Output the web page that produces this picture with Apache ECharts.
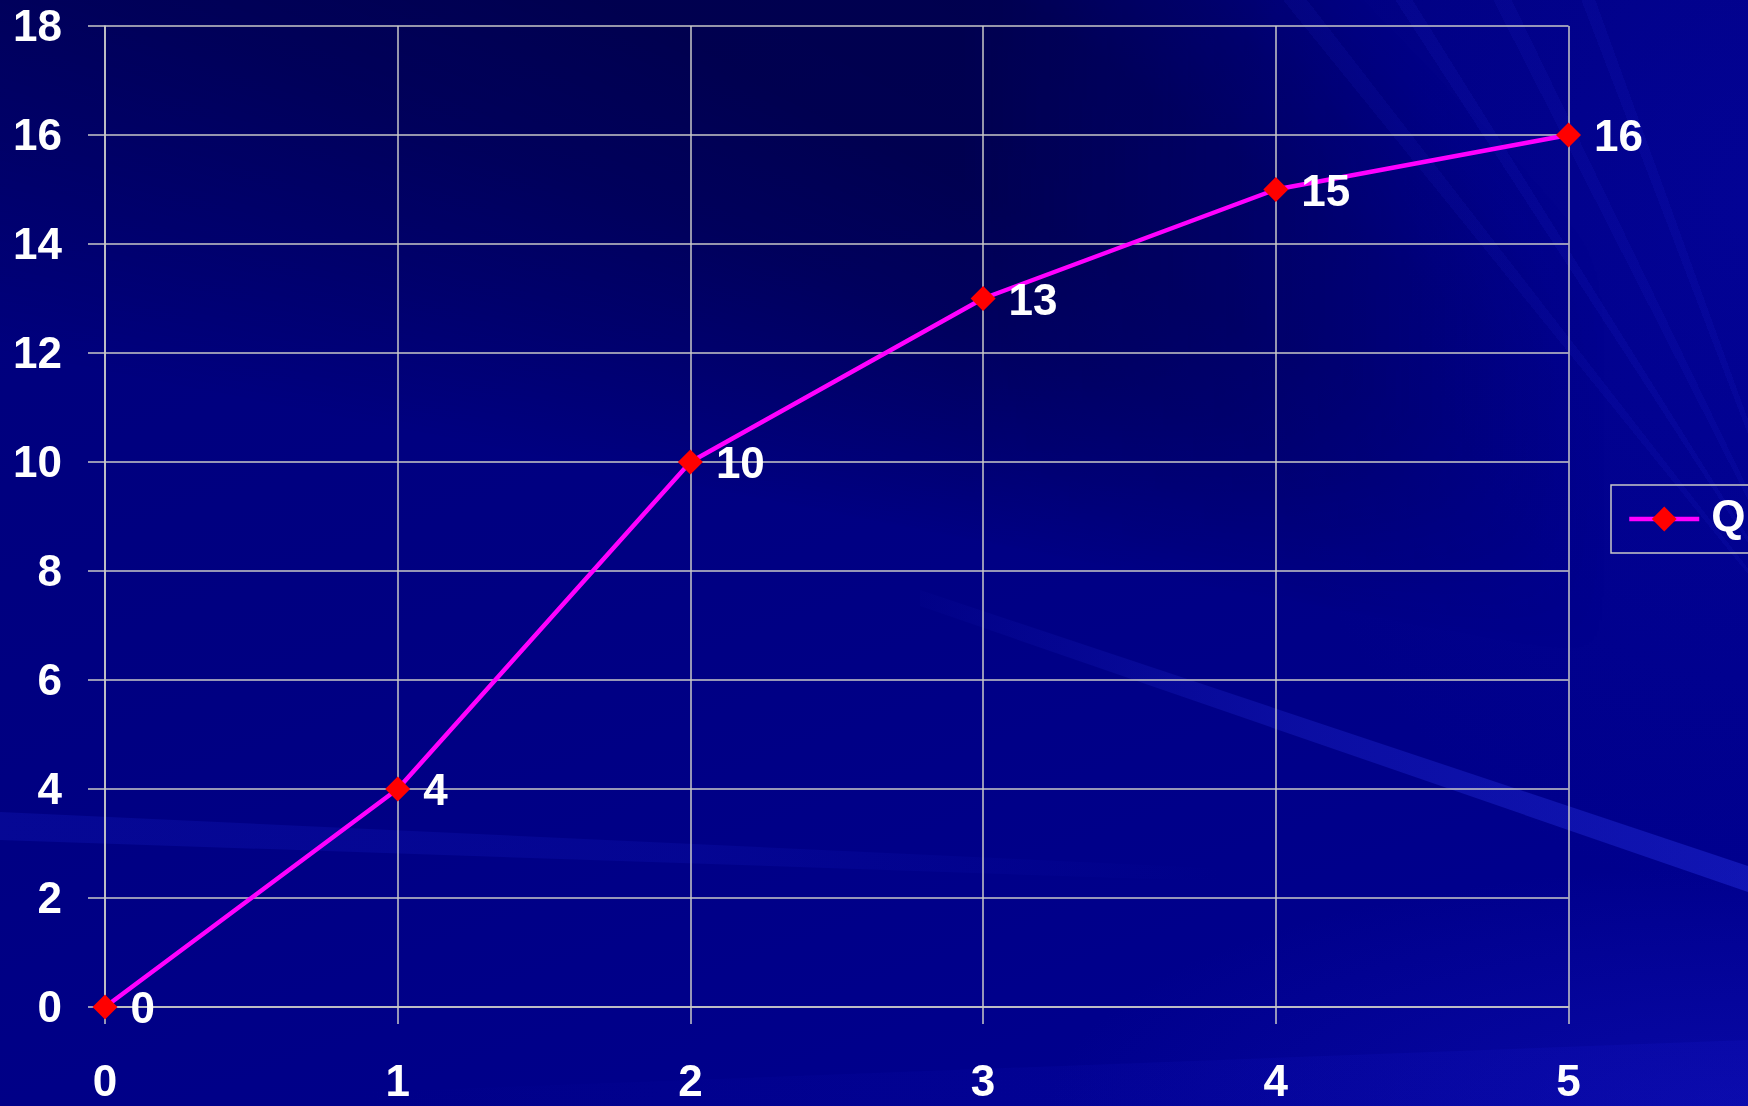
<!DOCTYPE html>
<html>
<head>
<meta charset="utf-8">
<script src="https://cdn.jsdelivr.net/npm/echarts@6/dist/echarts.min.js"></script>
<style>
html, body { margin: 0; padding: 0; background: #000080; }
.layer { position: absolute; left: 0; top: 0; width: 1748px; height: 1106px; }
#bg {
  background:
    radial-gradient(ellipse 700px 240px at 1748px 1106px, rgba(20,20,190,0.45), rgba(0,0,0,0)),
    radial-gradient(ellipse 520px 700px at 1748px 200px, rgba(10,10,190,0.30), rgba(0,0,0,0)),
    linear-gradient(160deg, #00007a 0%, #000082 45%, #00008a 75%, #000092 100%);
}
#dark {
  background: conic-gradient(from 0deg at 2100px 760px,
      rgba(0,0,25,0) 0deg 281deg,
      rgba(0,0,25,0.18) 286deg,
      rgba(0,0,25,0.34) 291deg,
      rgba(0,0,25,0.45) 297deg,
      rgba(0,0,25,0.46) 305deg,
      rgba(0,0,25,0.32) 310deg,
      rgba(0,0,25,0) 316deg,
      rgba(0,0,25,0) 360deg);
  -webkit-mask-image: linear-gradient(to right, #000 0%, #000 55%, rgba(0,0,0,0) 92%);
  mask-image: linear-gradient(to right, #000 0%, #000 55%, rgba(0,0,0,0) 92%);
}
#rays {
  background: conic-gradient(from 0deg at 1850px 700px,
      rgba(0,0,0,0) 0deg 321deg,
      rgba(50,60,255,0.07) 321deg 322.2deg,
      rgba(0,0,0,0) 322.2deg 327deg,
      rgba(50,60,255,0.08) 327deg 328deg,
      rgba(0,0,0,0) 328deg 333deg,
      rgba(50,60,255,0.07) 333deg 334.2deg,
      rgba(0,0,0,0) 334.2deg 339deg,
      rgba(50,60,255,0.07) 339deg 340deg,
      rgba(0,0,0,0) 340deg 360deg);
}
#streakA {
  background: linear-gradient(to right, rgba(40,50,230,0) 50%, rgba(40,50,230,0.28) 75%, rgba(40,50,230,0.42) 100%);
  clip-path: polygon(920px 590px, 1748px 866px, 1748px 892px, 920px 606px);
}
#streakB {
  background: linear-gradient(to right, rgba(30,40,220,0.20) 0%, rgba(30,40,220,0.14) 40%, rgba(30,40,220,0) 70%);
  clip-path: polygon(0px 812px, 1300px 872px, 1300px 884px, 0px 840px);
}
#streakC {
  background: linear-gradient(to right, rgba(20,20,200,0) 20%, rgba(20,20,200,0.22) 100%);
  clip-path: polygon(0px 1106px, 1748px 1040px, 1748px 1106px);
}
#chart { position: absolute; left: 0; top: 0; width: 1748px; height: 1106px; }
</style>
</head>
<body>
<div id="bg" class="layer"></div>
<div id="dark" class="layer"></div>
<div id="rays" class="layer"></div>
<div id="streakA" class="layer"></div>
<div id="streakB" class="layer"></div>
<div id="streakC" class="layer"></div>
<div id="chart"></div>
<script>
var xValues = [0, 1, 2, 3, 4, 5];
var qValues = [0, 4, 10, 13, 15, 16];
var seriesName = 'Q';

var chart = echarts.init(document.getElementById('chart'), null, { renderer: 'canvas' });
var gridColor = '#c8c8c8';
var fontFamily = '"Liberation Sans", Arial, sans-serif';

var option = {
  backgroundColor: 'transparent',
  animation: false,
  grid: { left: 105, right: 179.5, top: 26, bottom: 95.5, containLabel: false },
  legend: {
    data: [seriesName],
    left: 1611, top: 485,
    orient: 'vertical',
    padding: [12, 60, 12, 16],
    itemWidth: 70, itemHeight: 31,
    borderColor: '#c8c8c8', borderWidth: 1.5,
    lineStyle: { color: '#ff00ff', width: 4.5 },
    itemStyle: { color: '#ff0000' },
    textStyle: { color: '#ffffff', fontSize: 44, fontWeight: 'bold', fontFamily: fontFamily, padding: [0, 0, 0, 7] }
  },
  xAxis: {
    type: 'value', min: 0, max: 5, interval: 1,
    axisLine: { show: true, lineStyle: { color: gridColor, width: 1.5 } },
    axisTick: { show: true, length: 17, lineStyle: { color: gridColor, width: 1.5 } },
    splitLine: { show: true, lineStyle: { color: gridColor, width: 1.5 } },
    axisLabel: { color: '#ffffff', fontSize: 44, fontWeight: 'bold', fontFamily: fontFamily, margin: 55 }
  },
  yAxis: {
    type: 'value', min: 0, max: 18, interval: 2,
    axisLine: { show: true, lineStyle: { color: gridColor, width: 1.5 } },
    axisTick: { show: true, length: 17, lineStyle: { color: gridColor, width: 1.5 } },
    splitLine: { show: true, lineStyle: { color: gridColor, width: 1.5 } },
    axisLabel: {
      margin: 43,
      formatter: function (v) { return '{t|' + v + '}'; },
      rich: { t: { color: '#ffffff', fontSize: 44, fontWeight: 'bold', fontFamily: fontFamily, padding: [5, 0, 0, 0] } }
    }
  },
  series: [{
    name: seriesName,
    type: 'line',
    data: xValues.map(function (x, i) { return [x, qValues[i]]; }),
    symbol: 'diamond',
    symbolSize: 25,
    showAllSymbol: true,
    lineStyle: { color: '#ff00ff', width: 4.5 },
    itemStyle: { color: '#ff0000' },
    label: {
      show: true, position: 'right', distance: 13, offset: [0, 4],
      color: '#ffffff', fontSize: 44, fontWeight: 'bold', fontFamily: fontFamily,
      formatter: function (p) { return p.value[1]; }
    },
    emphasis: { disabled: true }
  }]
};
chart.setOption(option);
</script>
</body>
</html>
